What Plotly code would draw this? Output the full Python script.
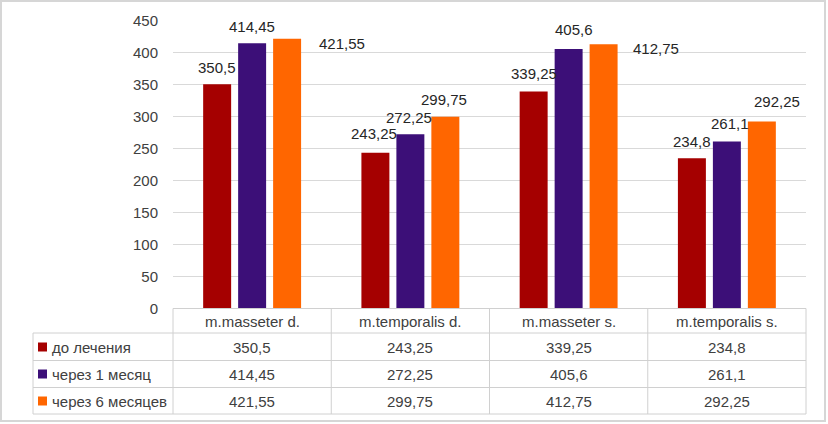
import plotly.graph_objects as go

# ---- data ----
categories = ["m.masseter d.", "m.temporalis d.", "m.masseter s.", "m.temporalis s."]
series_names = ["до лечения", "через 1 месяц", "через 6 месяцев"]
before_treatment = [350.5, 243.25, 339.25, 234.8]
after_1_month = [414.45, 272.25, 405.6, 261.1]
after_6_months = [421.55, 299.75, 412.75, 292.25]
y_ticks = [0, 50, 100, 150, 200, 250, 300, 350, 400, 450]

series_values = [before_treatment, after_1_month, after_6_months]

# ---- style / layout ----
W, H = 828, 424
PL, PR = 173, 806      # plot area (pixels)
PT, PB = 20.5, 308.5
colors = ["#A50000", "#3C0F78", "#FF6600"]
text_color = "#404040"
FONT = "Liberation Sans, Arial, sans-serif"
grid_color = "#d9d9d9"
table_line = "#d0d0d0"
slot = 35  # px per bar slot in a group

# label offsets (dx, dy) in px, per series per category
label_offsets = [
    [(0, 17), (-1, 19), (0, 18), (0, 17)],
    [(0, 17), (-1, 17), (5, 19), (3, 18)],
    [(55, -5), (-1, 17), (52, -4), (15, 20)],
]


def fmt(v):
    return str(v).replace(".", ",")


def px(x):
    return x / W


def py(y):
    return 1 - y / H


fig = go.Figure()
for name, vals, col in zip(series_names, series_values, colors):
    fig.add_trace(go.Bar(x=categories, y=vals, name=name, marker_color=col,
                         marker_line_width=0, showlegend=False))

annotations = []
for si, vals in enumerate(series_values):
    for ci, (cat, v) in enumerate(zip(categories, vals)):
        dx, dy = label_offsets[si][ci]
        annotations.append(dict(x=cat, y=v, xref="x", yref="y", text=fmt(v),
                                showarrow=False, xshift=(si - 1) * slot + dx, yshift=dy,
                                xanchor="center", yanchor="middle",
                                font=dict(family=FONT, size=15, color="#262626")))

row_lines = [308.5, 333, 360.5, 387.5, 414]
row_centers = [321, 347, 374, 401]
col_edges = [PL + i * (PR - PL) / len(categories) for i in range(len(categories) + 1)]
TL = 33

shapes = []
shapes.append(dict(type="line", xref="paper", yref="paper", x0=px(PL), x1=px(PR),
                   y0=py(row_lines[0]), y1=py(row_lines[0]), line=dict(color=table_line, width=1)))
for yl in row_lines[1:]:
    shapes.append(dict(type="line", xref="paper", yref="paper", x0=px(TL), x1=px(PR),
                       y0=py(yl), y1=py(yl), line=dict(color=table_line, width=1)))
shapes.append(dict(type="line", xref="paper", yref="paper", x0=px(TL), x1=px(TL),
                   y0=py(row_lines[1]), y1=py(row_lines[-1]), line=dict(color=table_line, width=1)))
for xe in col_edges:
    shapes.append(dict(type="line", xref="paper", yref="paper", x0=px(xe), x1=px(xe),
                       y0=py(row_lines[0]), y1=py(row_lines[-1]), line=dict(color=table_line, width=1)))

for cat in categories:
    annotations.append(dict(x=cat, xref="x", y=py(row_centers[0]), yref="paper", text=cat,
                            showarrow=False, xanchor="center", yanchor="middle",
                            font=dict(family=FONT, size=15, color=text_color)))
for si, (name, vals, col) in enumerate(zip(series_names, series_values, colors)):
    yc = row_centers[si + 1]
    shapes.append(dict(type="rect", xref="paper", yref="paper", x0=px(38), x1=px(47),
                       y0=py(yc + 4.5), y1=py(yc - 4.5), fillcolor=col, line=dict(width=0)))
    annotations.append(dict(x=px(50), xref="paper", y=py(yc), yref="paper", text=name,
                            showarrow=False, xanchor="left", yanchor="middle",
                            font=dict(family=FONT, size=15, color=text_color)))
    for cat, v in zip(categories, vals):
        annotations.append(dict(x=cat, xref="x", y=py(yc), yref="paper", text=fmt(v),
                                showarrow=False, xanchor="center", yanchor="middle",
                                font=dict(family=FONT, size=15, color=text_color)))

shapes.append(dict(type="rect", xref="paper", yref="paper", x0=px(1), x1=px(825),
                   y0=py(421), y1=py(1), line=dict(color="#d6d6d6", width=2)))

fig.update_layout(
    width=W, height=H, autosize=False,
    margin=dict(l=0, r=0, t=0, b=0, pad=0, autoexpand=False),
    paper_bgcolor="white", plot_bgcolor="white",
    barmode="group", bargap=0.337, bargroupgap=0.2,
    xaxis=dict(domain=[px(PL), px(PR)], showticklabels=False, showgrid=False,
               showline=False, zeroline=False, ticks="", automargin=False),
    yaxis=dict(domain=[py(PB), py(PT)], range=[0, 450], tickvals=y_ticks,
               ticktext=[str(t) for t in y_ticks], showgrid=True, gridcolor=grid_color,
               gridwidth=1, zeroline=False, showline=False, ticks="", automargin=False,
               tickfont=dict(family=FONT, size=15, color=text_color), ticklabelstandoff=14),
    annotations=annotations, shapes=shapes,
    font=dict(family=FONT),
)

post = ("document.documentElement.style.overflow='hidden';"
        "document.body.style.margin='0';document.body.style.padding='0';"
        "document.body.style.overflow='hidden';"
        "var gd=document.getElementById('{plot_id}');"
        "gd.style.position='fixed';gd.style.left='0';gd.style.top='0';")

fig.write_html("out.html", config={"displayModeBar": False}, post_script=post)
